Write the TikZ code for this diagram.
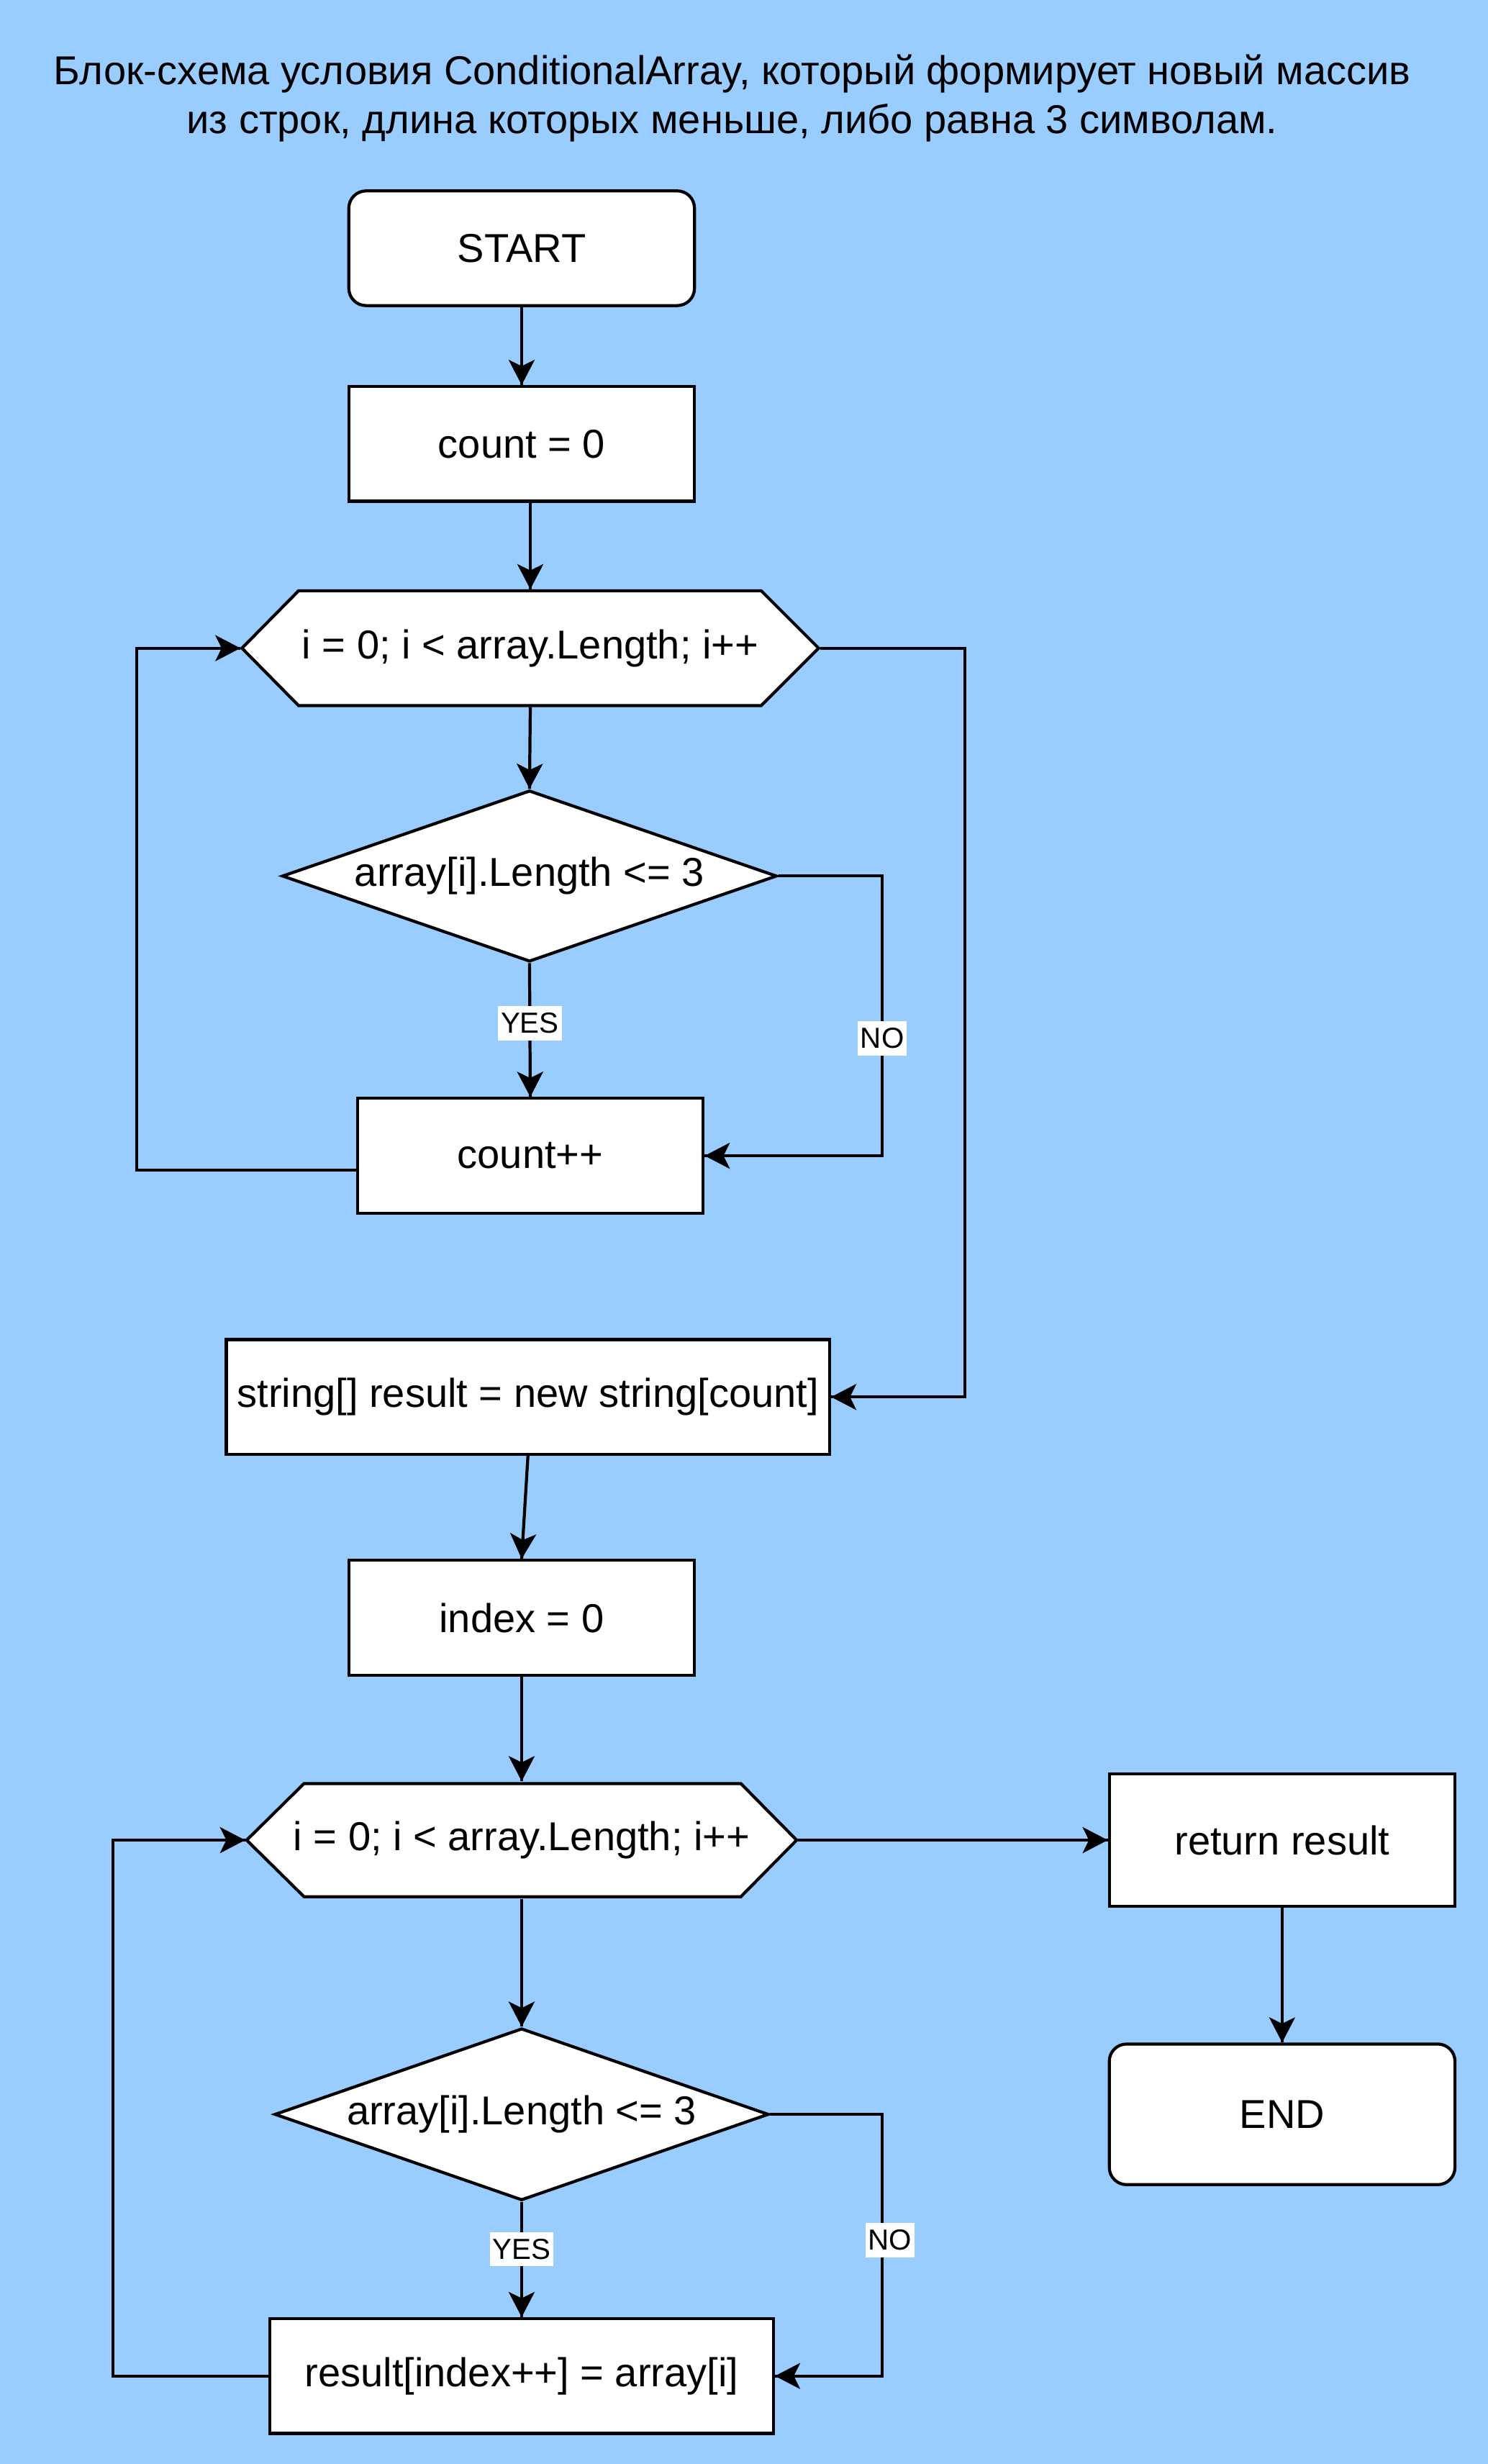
\documentclass[tikz,border=0pt]{standalone}
\usepackage{fontspec}
\setmainfont{Liberation Sans}
\usetikzlibrary{calc,arrows.meta,shapes.geometric,decorations.markings}
\definecolor{bgblue}{HTML}{99CCFF}
\newcommand{\mainfont}{\fontsize{14.6}{17.6}\selectfont}
\tikzset{->/.style = {decoration={markings, mark=at position 1 with {\arrow{Stealth[length=0.32cm, width=0.33cm, inset=0.08cm]}}}, postaction={decorate}}}
\tikzset{block/.style = {draw, fill=white, minimum width=4.4cm, minimum height=1.46cm, inner sep=0pt, font=\mainfont},
         term/.style = {block, rounded corners=0.22cm},
         cond/.style = {diamond, draw, fill=white, aspect=2.88, minimum width=6.3cm, minimum height=2.18cm, inner sep=0pt, font=\mainfont},
         hexa/.style = {draw, fill=white},
         hextext/.style = {minimum height=1.46cm, inner sep=0pt, font=\mainfont},
         lbl/.style = {fill=white, inner xsep=1pt, inner ysep=2.5pt, font=\fontsize{10.5}{12}\selectfont}}

\begin{document}
\begin{tikzpicture}[line width=1.1pt]
      \useasboundingbox[fill=bgblue] (0,0) rectangle (18.94,31.36);
      \node [font=\mainfont, align=center] (title) at (9.32,30.11) {Блок-схема условия ConditionalArray, который формирует новый массив\\из строк, длина которых меньше, либо равна 3 символам.};
      \node [term] (start) at (6.64,28.2) {START};
      \node [block] (init) at (6.64,25.71) {count = 0};
      \path [hexa] (3.80,23.84) -- (9.69,23.84) -- (10.42,23.11) -- (9.69,22.38) -- (3.80,22.38) -- (3.08,23.11) -- cycle;
      \node [hextext, minimum width=7.34cm] (loop1) at (6.75,23.11) {i = 0; i < array.Length; i++};
      \node [cond] (cond1) at (6.74,20.21) {array[i].Length <= 3};
      \node [block] (cnt) at (6.75,16.65) {count++};
      \node [block, minimum width=7.68cm] (res) at (6.72,13.58) {string[] result = new string[count]};
      \node [block] (idx) at (6.64,10.77) {index = 0};
      \path [hexa] (3.87,8.66) -- (9.43,8.66) -- (10.14,7.94) -- (9.43,7.22) -- (3.87,7.22) -- (3.14,7.94) -- cycle;
      \node [hextext, minimum width=7cm] (loop2) at (6.64,7.94) {i = 0; i < array.Length; i++};
      \node [block, minimum height=1.69cm] (ret) at (16.32,7.94) {return result};
      \node [term, minimum height=1.79cm] (stop) at (16.32,4.45) {END};
      \node [cond, minimum width=6.29cm, minimum height=2.19cm] (cond2) at (6.64,4.45) {array[i].Length <= 3};
      \node [block, minimum width=6.41cm] (put) at (6.64,1.12) {result[index++] = array[i]};
      \coordinate (back1) at (1.74,0);
      \coordinate (out1) at (12.28,0);
      \coordinate (no1) at (11.23,0);
      \coordinate (back2) at (1.44,0);
      \coordinate (no2) at (11.23,0);
      \draw [->] (start) -- (init);
      \draw [->] (init.south -| loop1.north) -- (loop1.north);
      \draw [->] (loop1.south) -- (cond1.north);
      \draw [->] (cond1.south) -- node [lbl, pos=.45] {YES} (cnt.north);
      \draw [->] (cond1.east) -- (cond1.east -| no1) |- node [lbl, pos=.29] {NO} (cnt.east);
      \draw [->] ([yshift=-.18cm]cnt.west) -| (back1 |- loop1.west) -- (loop1.west);
      \draw [->] (loop1.east) -- (loop1.east -| out1) |- (res.east);
      \draw [->] (res.south) -- (idx.north);
      \draw [->] (idx.south) -- (loop2.north);
      \draw [->] (loop2.east) -- (ret.west);
      \draw [->] (ret) -- (stop);
      \draw [->] (loop2.south) -- (cond2.north);
      \draw [->] (cond2.south) -- node [lbl, pos=.41] {YES} (put.north);
      \draw [->] (cond2.east) -- (cond2.east -| no2) |- node [lbl, pos=.24, xshift=.1cm] {NO} (put.east);
      \draw [->] (put.west) -| (back2 |- loop2.west) -- (loop2.west);
    \end{tikzpicture}
\end{document}
